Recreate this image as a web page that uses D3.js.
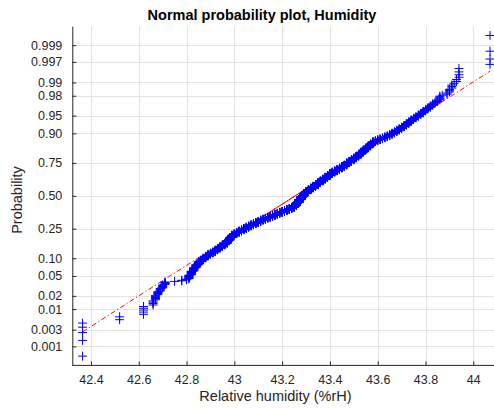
<!DOCTYPE html>
<html>
<head>
<meta charset="utf-8">
<script src="https://cdn.jsdelivr.net/npm/d3@7"></script>
<style>
  html, body { margin: 0; padding: 0; background: #ffffff; }
  svg { display: block; font-family: "Liberation Sans", Arial, Helvetica, sans-serif; }
</style>
</head>
<body>
<svg id="chart" width="494" height="408"></svg>
<script>
// Humidity readings (%rH), grouped by value with the number of samples at each value
const humidityValues = [
  42.365, 42.52, 42.62, 42.66, 42.67, 42.68, 42.69, 42.70, 42.71, 42.75, 42.78, 42.80,
  42.81, 42.82, 42.83, 42.84, 42.85,
  42.86, 42.87, 42.88, 42.89, 42.90, 42.91,
  42.92, 42.93, 42.94, 42.95, 42.96,
  42.97, 42.98, 42.99,
  43.00, 43.01, 43.02, 43.03, 43.04,
  43.05, 43.06, 43.07, 43.08, 43.09, 43.10, 43.11,
  43.12, 43.13, 43.14, 43.15, 43.16, 43.17, 43.18,
  43.19, 43.20, 43.21, 43.22, 43.23, 43.24, 43.25,
  43.26, 43.27, 43.28, 43.29,
  43.30, 43.31, 43.32, 43.33, 43.34, 43.35, 43.36, 43.37, 43.38, 43.39, 43.40,
  43.41, 43.42, 43.43, 43.44, 43.45, 43.46, 43.47,
  43.48, 43.49, 43.50, 43.51, 43.52, 43.53, 43.54,
  43.55, 43.56, 43.57, 43.58,
  43.59, 43.60, 43.61, 43.62, 43.63, 43.64, 43.65, 43.66,
  43.67, 43.68, 43.69, 43.70, 43.71, 43.72, 43.73, 43.74,
  43.75, 43.76, 43.77, 43.78, 43.79, 43.80,
  43.81, 43.82, 43.83, 43.84, 43.85,
  43.86, 43.87, 43.89, 43.90, 43.91, 43.92, 43.93, 43.94, 44.07
];
const humidityCounts = [
  5, 2, 5, 4, 5, 4, 4, 5, 5, 1, 2, 2,
  8, 9, 9, 9, 9,
  6, 7, 7, 7, 5, 5,
  8, 8, 8, 8, 8,
  14, 16, 15,
  9, 8, 8, 8, 9,
  8, 8, 8, 8, 8, 8, 9,
  7, 7, 7, 7, 7, 8, 8,
  7, 7, 7, 8, 8, 9, 14,
  24, 26, 26, 23,
  17, 14, 14, 14, 14, 14, 14, 14, 14, 14, 16,
  9, 9, 10, 10, 10, 10, 15,
  9, 10, 11, 11, 11, 12, 12,
  10, 10, 10, 10,
  4, 4, 4, 4, 4, 4, 5, 5,
  5, 5, 5, 5, 5, 5, 5, 5,
  4, 3, 4, 3, 4, 3,
  3, 3, 3, 2, 2,
  5, 1, 2, 3, 3, 1, 2, 4, 4
];

const humidityTicks = [42.4, 42.6, 42.8, 43, 43.2, 43.4, 43.6, 43.8, 44];
const humidityTickLabels = ["42.4", "42.6", "42.8", "43", "43.2", "43.4", "43.6", "43.8", "44"];
const probabilityTicks = [0.001, 0.003, 0.01, 0.02, 0.05, 0.10, 0.25, 0.50, 0.75, 0.90, 0.95, 0.98, 0.99, 0.997, 0.999];
const probabilityTickLabels = ["0.001", "0.003", "0.01", "0.02", "0.05", "0.10", "0.25", "0.50", "0.75", "0.90", "0.95", "0.98", "0.99", "0.997", "0.999"];

const titleText = "Normal probability plot, Humidity";
const xLabelText = "Relative humidity (%rH)";
const yLabelText = "Probability";

// Inverse of the standard normal CDF (Acklam's rational approximation)
function norminv(p) {
  const a = [-3.969683028665376e+01, 2.209460984245205e+02, -2.759285104469687e+02,
             1.383577518672690e+02, -3.066479806614716e+01, 2.506628277459239e+00];
  const b = [-5.447609879822406e+01, 1.615858368580409e+02, -1.556989798598866e+02,
             6.680131188771972e+01, -1.328068155288572e+01];
  const c = [-7.784894002430293e-03, -3.223964580411365e-01, -2.400758277161838e+00,
             -2.549671010243219e+00, 4.374664141464968e+00, 2.938163982698783e+00];
  const d = [7.784695709041462e-03, 3.224671290700398e-01, 2.445134137142996e+00,
             3.754408661907416e+00];
  const pl = 0.02425, ph = 1 - pl;
  let q, r;
  if (p < pl) {
    q = Math.sqrt(-2 * Math.log(p));
    return (((((c[0]*q + c[1])*q + c[2])*q + c[3])*q + c[4])*q + c[5]) /
           ((((d[0]*q + d[1])*q + d[2])*q + d[3])*q + 1);
  }
  if (p <= ph) {
    q = p - 0.5; r = q * q;
    return (((((a[0]*r + a[1])*r + a[2])*r + a[3])*r + a[4])*r + a[5]) * q /
           (((((b[0]*r + b[1])*r + b[2])*r + b[3])*r + b[4])*r + 1);
  }
  q = Math.sqrt(-2 * Math.log(1 - p));
  return -(((((c[0]*q + c[1])*q + c[2])*q + c[3])*q + c[4])*q + c[5]) /
          ((((d[0]*q + d[1])*q + d[2])*q + d[3])*q + 1);
}

// Expand grouped readings into the sorted sample
const sample = [];
humidityValues.forEach((v, k) => { for (let j = 0; j < humidityCounts[k]; j++) sample.push(v); });
sample.sort((a, b) => a - b);
const n = sample.length;
const points = sample.map((v, i) => ({ x: v, z: norminv((i + 0.5) / n) }));

// Percentile with midpoint plotting positions
function prctile(sorted, p) {
  const pos = sorted.length * p + 0.5;
  const lo = Math.max(1, Math.min(sorted.length, Math.floor(pos)));
  const hi = Math.max(1, Math.min(sorted.length, lo + 1));
  const f = pos - Math.floor(pos);
  return sorted[lo - 1] + f * (sorted[hi - 1] - sorted[lo - 1]);
}
const q1 = prctile(sample, 0.25), q3 = prctile(sample, 0.75);
const zq = norminv(0.75);
const mu = (q1 + q3) / 2, sigma = (q3 - q1) / (2 * zq);
const zOf = v => (v - mu) / sigma;

// Layout
const svg = d3.select("#chart");
const plotLeft = 72.3, plotRight = 497.2, plotTop = 26.2, plotBottom = 365.4;
const zLim = norminv(0.25 / n);

const x = d3.scaleLinear().domain([42.322, 44.1]).range([plotLeft, plotRight]);
const y = d3.scaleLinear().domain([zLim, -zLim]).range([plotBottom, plotTop]);

const axisColor = "#262626", gridColor = "#e3e3e3";

// Grid
const grid = svg.append("g");
grid.selectAll("line.gx").data(humidityTicks).join("line")
  .attr("x1", d => Math.round(x(d)) + 0.5).attr("x2", d => Math.round(x(d)) + 0.5)
  .attr("y1", plotTop).attr("y2", plotBottom)
  .attr("stroke", gridColor).attr("stroke-width", 1);
grid.selectAll("line.gy").data(probabilityTicks).join("line")
  .attr("x1", plotLeft).attr("x2", 494)
  .attr("y1", d => Math.round(y(norminv(d))) + 0.5).attr("y2", d => Math.round(y(norminv(d))) + 0.5)
  .attr("stroke", gridColor).attr("stroke-width", 1);

// Reference line through the quartiles: dash-dot over the full range, solid between quartiles
const xmin = d3.min(sample), xmax = d3.max(sample);
const refLine = d3.line().x(d => x(d)).y(d => y(zOf(d)));
svg.append("path").datum([xmin, xmax]).attr("d", refLine)
  .attr("fill", "none").attr("stroke", "#ff0000").attr("stroke-width", 1)
  .attr("stroke-dasharray", "5,2.5,1.2,2.5");
svg.append("path").datum([q1, q3]).attr("d", refLine)
  .attr("fill", "none").attr("stroke", "#ff0000").attr("stroke-width", 1);

// Sample markers
const half = 4.5;
svg.append("g").selectAll("path").data(points).join("path")
  .attr("transform", d => `translate(${x(d.x)},${y(d.z)})`)
  .attr("d", `M${-half},0H${half}M0,${-half}V${half}`)
  .attr("fill", "none").attr("stroke", "#0000ff").attr("stroke-width", 1);

// Axes
const xAxis = d3.axisBottom(x).tickValues(humidityTicks)
  .tickFormat((d, i) => humidityTickLabels[i]).tickSizeInner(-4).tickSizeOuter(0).tickPadding(10);
const gx = svg.append("g").attr("transform", `translate(0,${plotBottom})`).call(xAxis);
gx.select(".domain").attr("stroke", axisColor).attr("d", `M${plotLeft},0H494`);
gx.selectAll(".tick line").attr("stroke", axisColor);
gx.selectAll(".tick text").attr("fill", axisColor).attr("font-size", 12.5)
  .attr("font-family", "Liberation Sans, Arial, sans-serif").attr("dy", "0.71em");

const yAxis = d3.axisLeft(y).tickValues(probabilityTicks.map(norminv))
  .tickFormat((d, i) => probabilityTickLabels[i]).tickSizeInner(-4).tickSizeOuter(0).tickPadding(10);
const gy = svg.append("g").attr("transform", `translate(${plotLeft},0)`).call(yAxis);
gy.select(".domain").attr("stroke", axisColor);
gy.selectAll(".tick line").attr("stroke", axisColor);
gy.selectAll(".tick text").attr("fill", axisColor).attr("font-size", 12.5)
  .attr("font-family", "Liberation Sans, Arial, sans-serif");

// Title and axis labels
svg.append("text").attr("x", 262).attr("y", 19.5).attr("text-anchor", "middle")
  .attr("font-size", 14.5).attr("font-weight", "bold").attr("fill", "#000000").text(titleText);
svg.append("text").attr("x", 275.5).attr("y", 401).attr("text-anchor", "middle")
  .attr("font-size", 14.5).attr("fill", axisColor).text(xLabelText);
svg.append("text").attr("transform", "translate(22,200) rotate(-90)").attr("text-anchor", "middle")
  .attr("font-size", 14.5).attr("fill", axisColor).text(yLabelText);
</script>
</body>
</html>
